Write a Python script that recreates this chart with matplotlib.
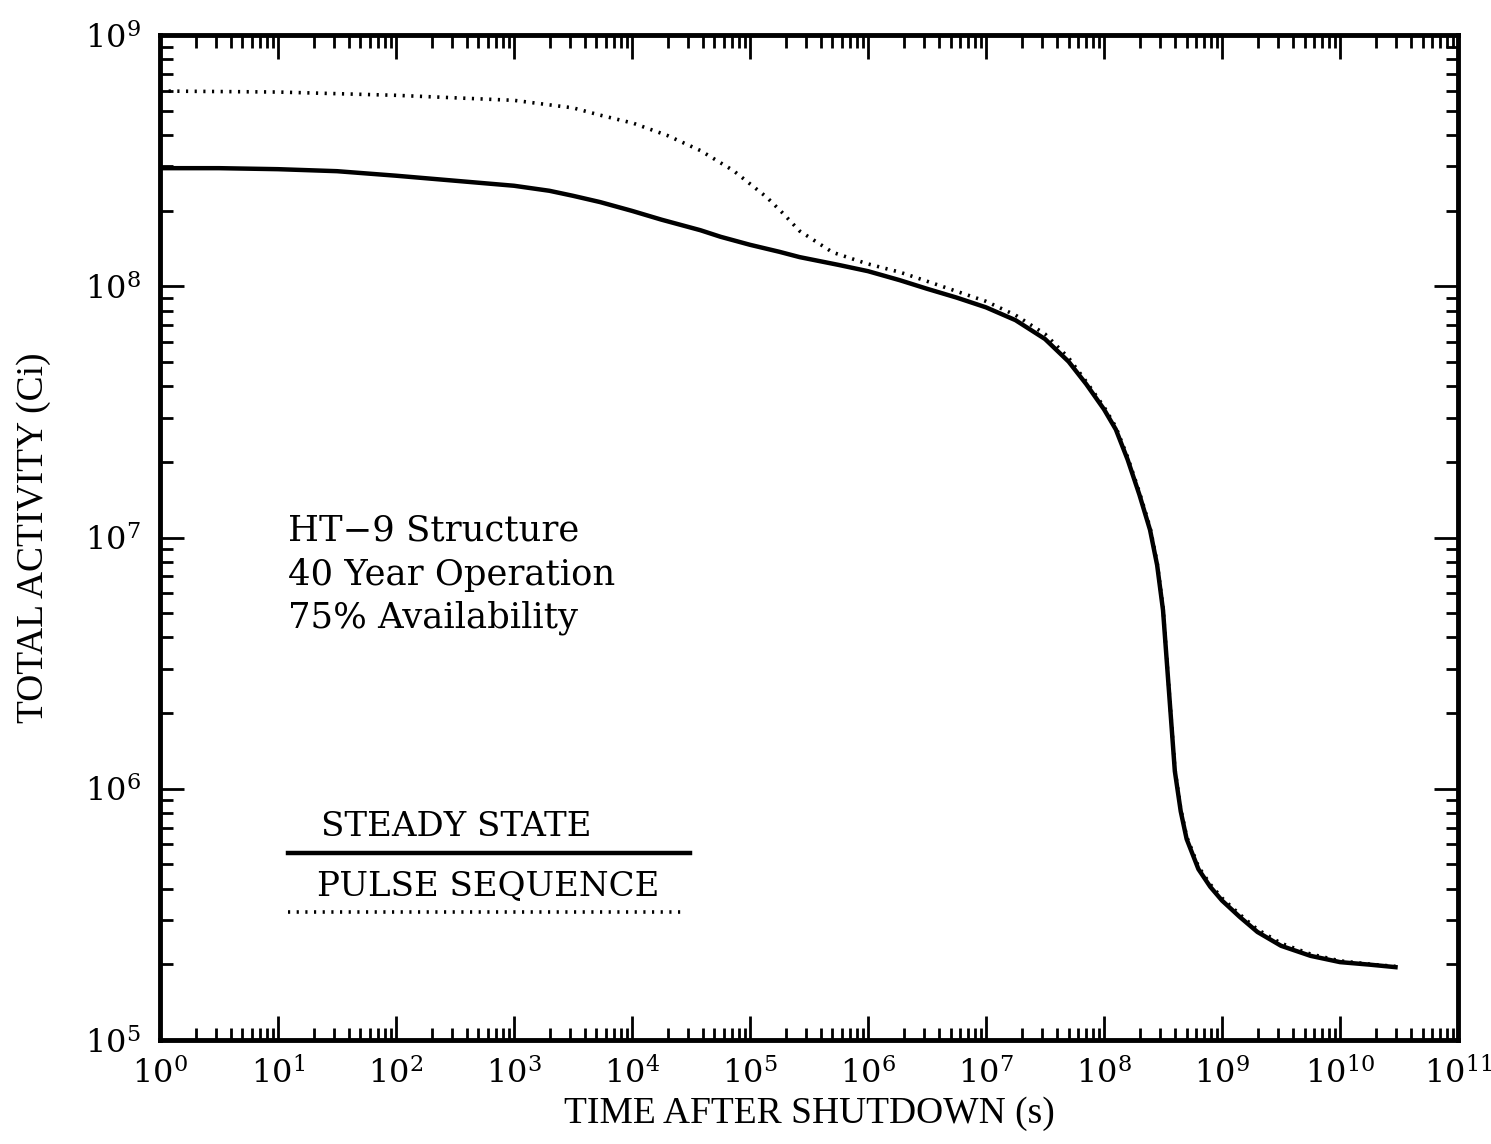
import numpy as np
import matplotlib.pyplot as plt
from matplotlib.ticker import LogLocator, FuncFormatter, NullFormatter

plt.rcParams['font.family'] = ['DejaVu Serif']
plt.rcParams['mathtext.fontset'] = 'dejavuserif'

# steady state curve (log10 of time in s, log10 of activity in Ci)
ss_logt = [0, 0.5, 1, 1.5, 2, 2.5, 3, 3.3, 3.5, 3.73, 4, 4.25, 4.58, 4.75, 5, 5.25,
           5.42, 5.75, 6, 6.27, 6.5, 6.75, 7, 7.25, 7.5, 7.7, 7.85, 8, 8.1, 8.2,
           8.3, 8.39, 8.45, 8.5, 8.55, 8.6, 8.65, 8.7, 8.8, 8.9, 9, 9.15, 9.3,
           9.5, 9.75, 10, 10.25, 10.47]
ss_loga = [8.47, 8.47, 8.466, 8.458, 8.44, 8.42, 8.40, 8.38, 8.36, 8.335, 8.30,
           8.265, 8.223, 8.197, 8.165, 8.137, 8.116, 8.085, 8.06, 8.024, 7.99,
           7.955, 7.916, 7.865, 7.79, 7.70, 7.61, 7.51, 7.43, 7.31, 7.17, 7.03,
           6.89, 6.71, 6.39, 6.07, 5.91, 5.80, 5.68, 5.61, 5.555, 5.49, 5.43,
           5.375, 5.335, 5.31, 5.30, 5.29]

# pulse sequence curve
ps_logt = [0, 1, 2, 3, 3.5, 3.73, 4.01, 4.3, 4.58, 4.86, 5.14, 5.28, 5.42, 5.7,
           5.99, 6.27, 6.5, 6.75, 7, 7.25, 7.5, 7.7, 7.85, 8, 8.1, 8.2, 8.3, 8.39,
           8.45, 8.5, 8.55, 8.6, 8.65, 8.7, 8.8, 8.9, 9, 9.15, 9.3, 9.5, 9.75,
           10, 10.25, 10.47]
ps_loga = [8.777, 8.773, 8.76, 8.74, 8.71, 8.681, 8.649, 8.60, 8.54, 8.46, 8.355,
           8.29, 8.22, 8.135, 8.09, 8.056, 8.02, 7.98, 7.94, 7.885, 7.81, 7.715,
           7.62, 7.52, 7.44, 7.32, 7.18, 7.04, 6.90, 6.72, 6.40, 6.08, 5.92, 5.81,
           5.69, 5.62, 5.565, 5.50, 5.44, 5.385, 5.342, 5.315, 5.302, 5.293]

ss_time = 10.0 ** np.array(ss_logt)
ss_act = 10.0 ** np.array(ss_loga)
ps_time = 10.0 ** np.array(ps_logt)
ps_act = 10.0 ** np.array(ps_loga)

dots = (0, (0.6, 1.8))

fig = plt.figure(figsize=(14.91, 11.44), dpi=100)
ax = fig.add_axes([0.1073, 0.0909, 0.8706, 0.8785])

ax.plot(ss_time, ss_act, color='black', lw=3.2)
ax.plot(ps_time, ps_act, color='black', lw=2.6, linestyle=dots)

ax.set_xscale('log')
ax.set_yscale('log')
ax.set_xlim(1e0, 1e11)
ax.set_ylim(1e5, 1e9)

# tick setup: inward ticks on all sides
for axis in (ax.xaxis, ax.yaxis):
    axis.set_major_locator(LogLocator(base=10, numticks=20))
    axis.set_minor_locator(LogLocator(base=10, subs=np.arange(2, 10), numticks=20))
    axis.set_minor_formatter(NullFormatter())
fmt = FuncFormatter(lambda v, p: r'$\mathregular{10^{%d}}$' % round(np.log10(v)))
ax.xaxis.set_major_formatter(fmt)
ax.yaxis.set_major_formatter(fmt)
ax.tick_params(which='both', direction='in', top=True, right=True, width=2, labelsize=23)
ax.tick_params(which='major', length=17)
ax.tick_params(which='minor', length=9)
ax.tick_params(axis='x', pad=13)
ax.tick_params(axis='y', pad=14)
for s in ax.spines.values():
    s.set_linewidth(3.5)

ax.set_xlabel('TIME AFTER SHUTDOWN (s)', fontsize=27, family='Liberation Serif', labelpad=4)
ax.set_ylabel('TOTAL ACTIVITY (Ci)', fontsize=27, family='Liberation Serif', labelpad=24)

# annotation
ax.text(0.0986, 0.507, 'HT\u22129 Structure', transform=ax.transAxes, fontsize=25.5, va='center')
ax.text(0.0986, 0.463, '40 Year Operation', transform=ax.transAxes, fontsize=25.5, va='center')
ax.text(0.0986, 0.420, '75% Availability', transform=ax.transAxes, fontsize=25.5, va='center')

# hand-drawn style legend
ax.plot([0.0986, 0.408], [0.186, 0.186], transform=ax.transAxes, color='black', lw=3.2)
ax.text(0.228, 0.196, 'STEADY STATE', transform=ax.transAxes, fontsize=24.5, ha='center', va='bottom')
ax.plot([0.0986, 0.405], [0.127, 0.127], transform=ax.transAxes, color='black', lw=2.6,
        linestyle=dots)
ax.text(0.2525, 0.137, 'PULSE SEQUENCE', transform=ax.transAxes, fontsize=24.5, ha='center', va='bottom')

fig.savefig('out.png', dpi=100)
